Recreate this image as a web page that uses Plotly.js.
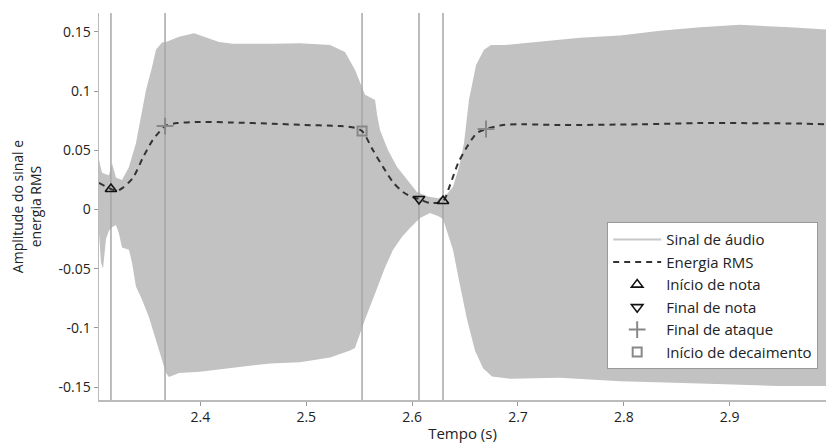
<!DOCTYPE html>
<html>
<head>
<meta charset="utf-8">
<script src="https://cdn.plot.ly/plotly-3.0.1.min.js"></script>
<style>html,body{margin:0;padding:0;background:#fff;}#chart{width:827px;height:443px;}</style>
</head>
<body>
<div id="chart"></div>
<script>
// Audio signal envelope (upper and lower bounds of the waveform)
const sigUpperT = [2.3042,2.3070,2.3098,2.3136,2.3165,2.3202,2.3259,2.3325,2.3391,2.3448,2.3486,2.3542,2.3580,2.3637,2.3675,2.3798,2.3940,2.4176,2.4308,2.4686,2.4941,2.5225,2.5366,2.5460,2.5555,2.5650,2.5669,2.5697,2.5773,2.5858,2.5952,2.6046,2.6150,2.6244,2.6320,2.6386,2.6443,2.6490,2.6537,2.6604,2.6679,2.6745,2.6887,2.7397,2.7586,2.7964,2.8342,2.8720,2.9098,2.9570,2.9910];
const sigUpper  = [0.042,0.031,0.030,0.029,0.039,0.027,0.025,0.036,0.056,0.084,0.101,0.120,0.135,0.141,0.1415,0.146,0.149,0.1415,0.140,0.140,0.1405,0.139,0.133,0.118,0.097,0.0925,0.080,0.067,0.050,0.036,0.025,0.0148,0.011,0.0095,0.012,0.019,0.036,0.056,0.0925,0.122,0.135,0.139,0.139,0.143,0.145,0.147,0.151,0.154,0.156,0.154,0.152];
const sigLowerT = [2.3042,2.3061,2.3080,2.3108,2.3136,2.3165,2.3202,2.3230,2.3259,2.3325,2.3354,2.3391,2.3448,2.3514,2.3580,2.3637,2.3675,2.3703,2.3798,2.3996,2.4308,2.4657,2.4941,2.5225,2.5414,2.5460,2.5555,2.5650,2.5744,2.5820,2.5905,2.5980,2.6075,2.6169,2.6244,2.6292,2.6386,2.6452,2.6519,2.6594,2.6670,2.6755,2.6925,2.7397,2.7964,2.8720,2.9457,2.9910];
const sigLower  = [-0.020,-0.045,-0.050,-0.025,-0.018,-0.015,-0.013,-0.020,-0.032,-0.034,-0.045,-0.065,-0.076,-0.091,-0.110,-0.127,-0.138,-0.1415,-0.138,-0.137,-0.134,-0.130,-0.129,-0.125,-0.119,-0.117,-0.093,-0.071,-0.049,-0.034,-0.023,-0.0156,-0.0072,-0.003,-0.0055,-0.008,-0.034,-0.064,-0.093,-0.119,-0.134,-0.141,-0.143,-0.142,-0.145,-0.147,-0.149,-0.149];

// RMS energy curve
const rmsT = [2.3042,2.3099,2.3155,2.3210,2.3269,2.3364,2.3458,2.3552,2.3647,2.3666,2.3779,2.3996,2.4308,2.4686,2.4941,2.5319,2.5460,2.5527,2.5631,2.5725,2.5820,2.5914,2.5999,2.6065,2.6169,2.6292,2.6358,2.6434,2.6519,2.6613,2.6698,2.6859,2.7048,2.7397,2.8153,2.8720,2.9665,2.9910];
const rmsV = [0.0224,0.0198,0.0173,0.0158,0.0185,0.027,0.044,0.059,0.069,0.0705,0.073,0.074,0.0735,0.0725,0.0715,0.0705,0.069,0.0663,0.050,0.036,0.023,0.0148,0.0106,0.0089,0.0055,0.0072,0.0207,0.039,0.053,0.0646,0.068,0.0714,0.072,0.0714,0.072,0.073,0.0726,0.072];

// Detected events
const onsetT = [2.3155, 2.6292];
const onsetV = [0.0173, 0.0072];
const offsetT = [2.6065];
const offsetV = [0.0089];
const attackT = [2.3666, 2.6698];
const attackV = [0.0705, 0.068];
const decayT = [2.5527];
const decayV = [0.0663];

// Segment boundary lines
const boundaryT = [2.3155, 2.3666, 2.5527, 2.6065, 2.6292];

const xTicks = [2.4, 2.5, 2.6, 2.7, 2.8, 2.9];
const xTickText = ["2.4", "2.5", "2.6", "2.7", "2.8", "2.9"];
const yTicks = [0.15, 0.1, 0.05, 0, -0.05, -0.1, -0.15];
const yTickText = ["0.15", "0.1", "0.05", "0", "-0.05", "-0.1", "-0.15"];

const xRange = [2.3042, 2.991];
const yRange = [-0.1609, 0.166];

const lineX = [], lineY = [];
boundaryT.forEach(t => { lineX.push(t, t, null); lineY.push(yRange[0], yRange[1], null); });

const gray = '#c2c2c2';
const traces = [
  {x: sigUpperT.concat(sigLowerT.slice().reverse()), y: sigUpper.concat(sigLower.slice().reverse()),
   mode: 'lines', fill: 'toself', fillcolor: gray, line: {width: 0, color: gray}, showlegend: false, hoverinfo: 'skip'},
  {x: lineX, y: lineY, mode: 'lines', line: {color: '#a6a6a6', width: 1.5}, showlegend: false, hoverinfo: 'skip'},
  {x: [null], y: [null], mode: 'lines', name: 'Sinal de áudio', line: {color: '#c8c8c8', width: 2}},
  {x: rmsT, y: rmsV, mode: 'lines', name: 'Energia RMS', line: {color: '#333333', width: 2, dash: '6px,5px', shape: 'spline', smoothing: 0.8}},
  {x: onsetT, y: onsetV, mode: 'markers', name: 'Início de nota', marker: {symbol: 'triangle-up-open', size: 10, color: '#111', line: {width: 1.6, color: '#111'}}},
  {x: offsetT, y: offsetV, mode: 'markers', name: 'Final de nota', marker: {symbol: 'triangle-down-open', size: 10, color: '#111', line: {width: 1.6, color: '#111'}}},
  {x: attackT, y: attackV, mode: 'markers', name: 'Final de ataque', marker: {symbol: 'cross-thin-open', size: 12, color: '#888', line: {width: 2, color: '#888'}}},
  {x: decayT, y: decayV, mode: 'markers', name: 'Início de decaimento', marker: {symbol: 'square-open', size: 9, color: '#888', line: {width: 2, color: '#888'}}}
];

const font = {family: '"Open Sans", "Noto Sans", sans-serif', size: 14, color: '#222'};
const layout = {
  width: 827, height: 443,
  margin: {l: 99, r: 1, t: 13, b: 43},
  paper_bgcolor: '#fff', plot_bgcolor: '#fff',
  font: font,
  showlegend: true,
  xaxis: {range: xRange, tickvals: xTicks, ticktext: xTickText, ticks: 'outside', ticklen: 4, tickcolor: '#999',
          showline: true, linecolor: '#bbb', linewidth: 1.5, showgrid: false, zeroline: false,
          tickfont: {size: 14, color: '#222'},
          title: {text: 'Tempo (s)', font: {size: 15, color: '#222'}, standoff: 4}},
  yaxis: {range: yRange, tickvals: yTicks, ticktext: yTickText, ticks: 'outside', ticklen: 4, tickcolor: '#999',
          showline: true, linecolor: '#bbb', linewidth: 1.5, showgrid: false, zeroline: false,
          tickfont: {size: 14, color: '#222'},
          title: {text: 'Amplitude do sinal e<br>energia RMS', font: {size: 14, color: '#222'}, standoff: 13}},
  legend: {x: 0.699, y: 0.459, xanchor: 'left', yanchor: 'top', bgcolor: '#fff', bordercolor: '#999', borderwidth: 1,
           font: {size: 15, color: '#222'}, tracegroupgap: 0, itemwidth: 48}
};

Plotly.newPlot('chart', traces, layout, {displayModeBar: false, staticPlot: true});
</script>
</body>
</html>
